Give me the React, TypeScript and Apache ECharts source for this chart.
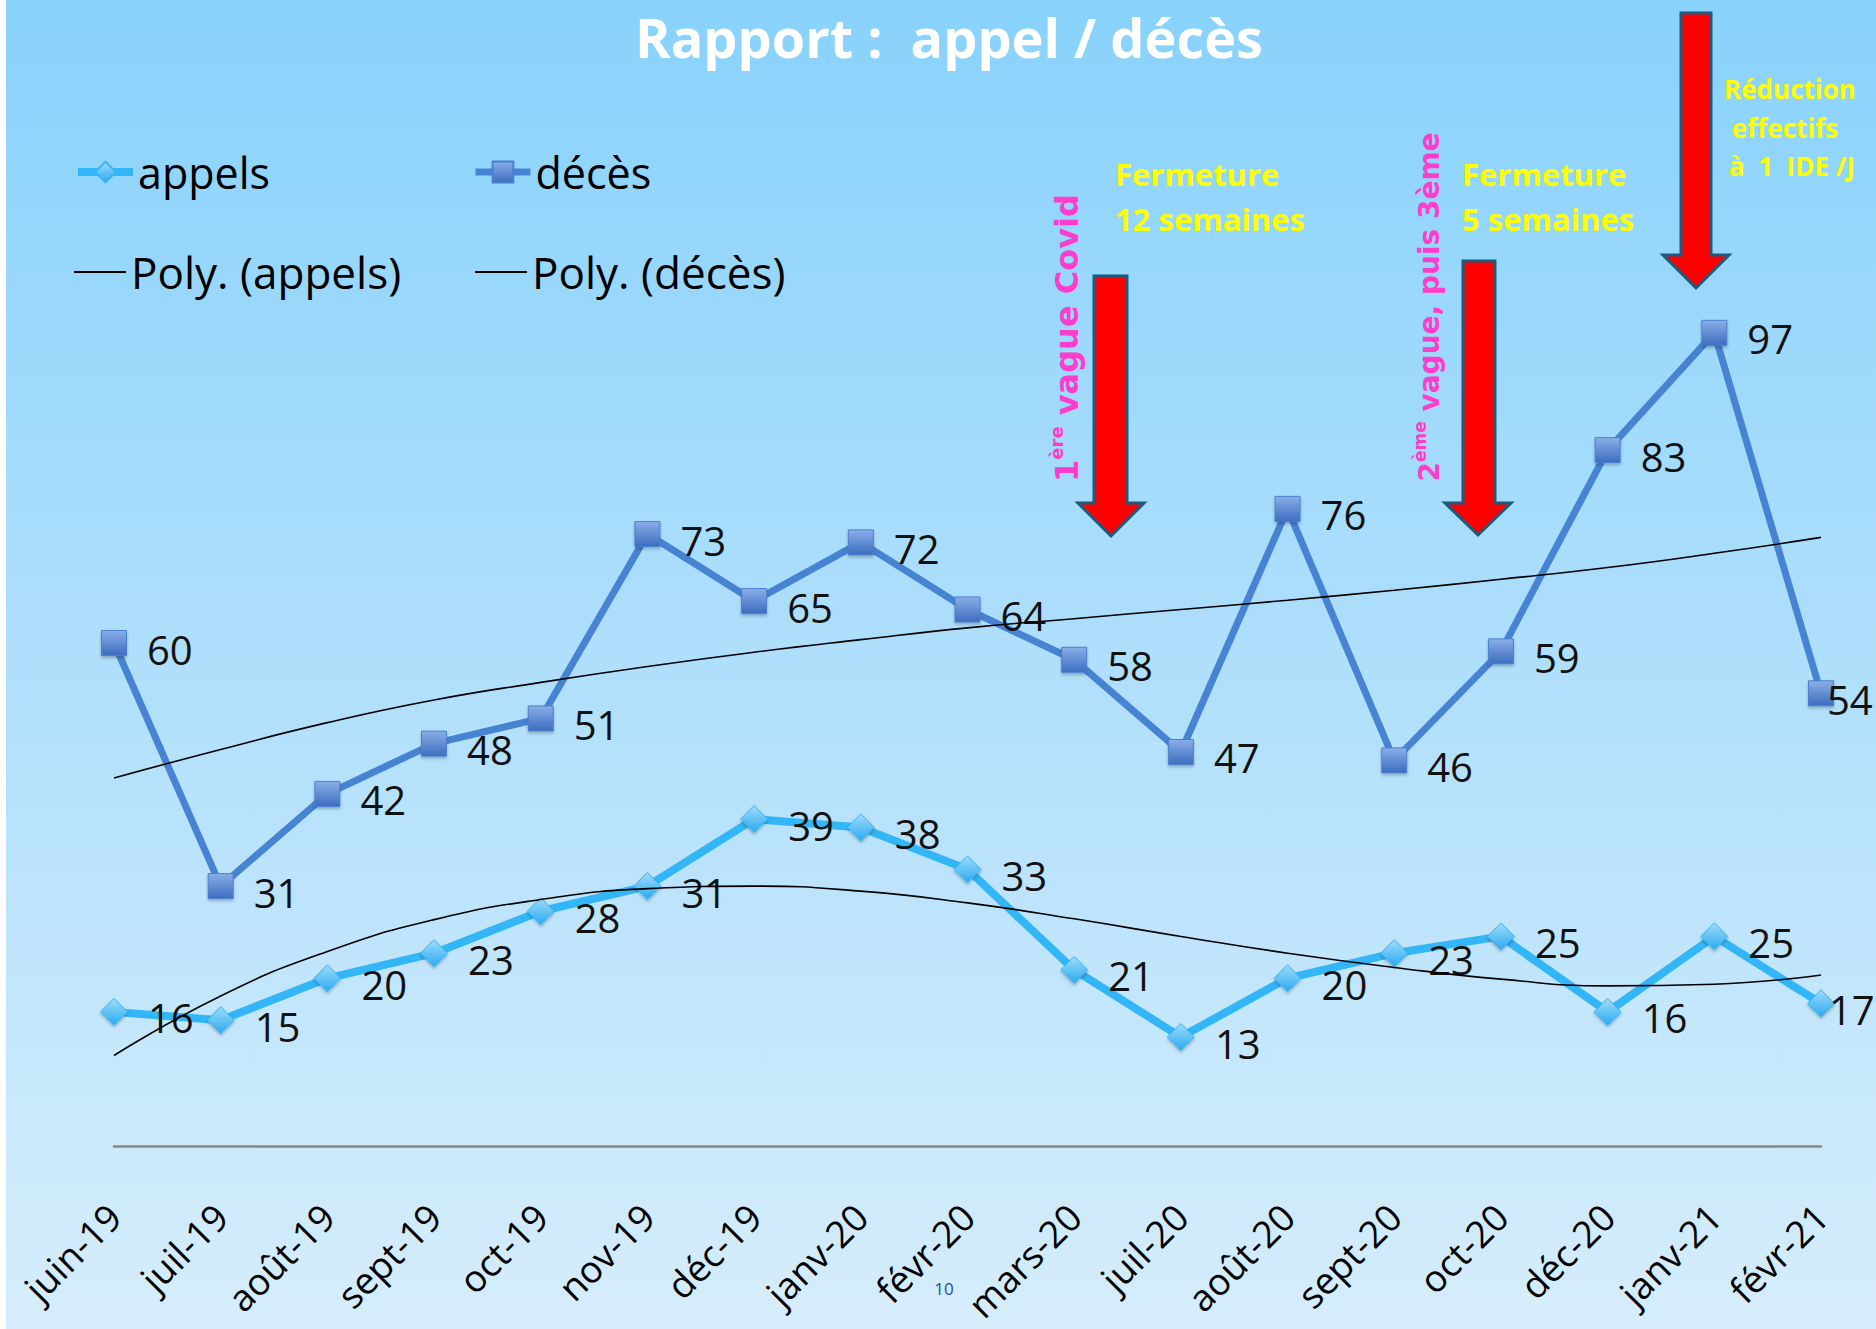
import React, { useEffect, useRef } from "react";
import * as echarts from "echarts";

const categories = ["juin-19", "juil-19", "août-19", "sept-19", "oct-19", "nov-19", "déc-19", "janv-20", "févr-20", "mars-20", "juil-20", "août-20", "sept-20", "oct-20", "déc-20", "janv-21", "févr-21"];
const appels = [16, 15, 20, 23, 28, 31, 39, 38, 33, 21, 13, 20, 23, 25, 16, 25, 17];
const deces = [60, 31, 42, 48, 51, 73, 65, 72, 64, 58, 47, 76, 46, 59, 83, 97, 54];
const polyAppels = [10.8, 17.9, 23.2, 27.0, 29.4, 30.7, 31.0, 30.4, 29.0, 27.1, 25.0, 23.0, 21.3, 19.9, 19.1, 19.3, 20.4];
const polyDeces = [43.9, 47.3, 50.5, 53.2, 55.3, 57.2, 58.9, 60.4, 61.8, 62.9, 64.0, 65.1, 66.3, 67.6, 69.0, 70.7, 72.6];

const FONT = "'Open Sans', 'Noto Sans', sans-serif";

function arrow(sx0: number, sx1: number, top: number, base: number, hx0: number, hx1: number, tip: number) {
  const cx = (hx0 + hx1) / 2;
  return {
    type: "polygon",
    z: 20,
    shape: { points: [[sx0, top], [sx1, top], [sx1, base], [hx1, base], [cx, tip], [hx0, base], [sx0, base]] },
    style: { fill: "#ff0000", stroke: "#1d5b7c", lineWidth: 3 },
  };
}

function yellow(text: string, x: number, y: number, size: number, align = "left") {
  return {
    type: "text",
    z: 20,
    x,
    y,
    style: { text, fill: "#ffff00", fontSize: size, fontWeight: "bold", fontFamily: FONT, align, verticalAlign: "middle" },
  };
}

export default function App() {
  const ref = useRef<HTMLDivElement>(null);
  useEffect(() => {
    if (!ref.current) return;
    const chart = echarts.init(ref.current, undefined, { renderer: "svg" });
    const last = categories.length - 1;
    const labelBase = { show: true, position: "right", distance: 20, offset: [0, 6], fontSize: 40, color: "#111", fontFamily: FONT };
    const decesData = deces.map((v, i) => (i === last ? { value: v, label: { offset: [-27, 6] } } : v));
    const appelsData = appels.map((v, i) => (i === last ? { value: v, label: { offset: [-26, 6] } } : v));
    const legendText = { fontSize: 43, color: "#000", fontFamily: FONT, lineHeight: 46 };
    const option = {
      animation: false,
      title: {
        text: "Rapport :  appel / décès",
        left: 944,
        top: 2,
        textAlign: "center",
        textStyle: { color: "#ffffff", fontSize: 54, fontWeight: "bold", fontFamily: FONT, lineHeight: 60 },
      },
      legend: [
        { data: ["appels"], left: 74, top: 149, padding: 0, itemWidth: 55, itemHeight: 26, itemGap: 0, textStyle: legendText, lineStyle: { width: 8 } },
        { data: ["décès"], left: 472, top: 149, padding: 0, itemWidth: 55, itemHeight: 26, itemGap: 0, textStyle: legendText, lineStyle: { width: 7 } },
        { data: [{ name: "Poly. (appels)", icon: "rect" }], left: 74, top: 249, padding: 0, itemWidth: 52, itemHeight: 2, itemGap: 0, textStyle: { ...legendText, fontSize: 44 } },
        { data: [{ name: "Poly. (décès)", icon: "rect" }], left: 475, top: 249, padding: 0, itemWidth: 52, itemHeight: 2, itemGap: 0, textStyle: { ...legendText, fontSize: 44 } },
      ],
      grid: { left: 114, right: 55, top: 140, bottom: 183, containLabel: false },
      xAxis: {
        type: "category",
        data: categories,
        boundaryGap: false,
        axisLine: { lineStyle: { color: "#888888", width: 2.5 } },
        axisTick: { show: false },
        axisLabel: { rotate: 45, margin: 64, interval: 0, fontSize: 37, color: "#000", fontFamily: FONT },
        splitLine: { show: false },
      },
      yAxis: { type: "value", min: 0, max: 120, show: false, splitLine: { show: false } },
      series: [
        {
          name: "appels",
          type: "line",
          data: appelsData,
          symbol: "diamond",
          symbolSize: 27,
          z: 3,
          lineStyle: { color: "#33b6f7", width: 8 },
          itemStyle: {
            color: new echarts.graphic.LinearGradient(0, 0, 0, 1, [
              { offset: 0, color: "#9edcfc" },
              { offset: 1, color: "#2aaaf0" },
            ]),
            borderColor: "#3ab4f2",
            borderWidth: 1,
            shadowBlur: 3,
            shadowColor: "rgba(0,0,0,0.25)",
            shadowOffsetY: 2,
          },
          label: labelBase,
        },
        {
          name: "décès",
          type: "line",
          data: decesData,
          symbol: "rect",
          symbolSize: 25,
          z: 3,
          lineStyle: { color: "#4783d3", width: 7 },
          itemStyle: {
            color: new echarts.graphic.LinearGradient(0, 0, 0, 1, [
              { offset: 0, color: "#8aaee8" },
              { offset: 1, color: "#3d6dbf" },
            ]),
            borderColor: "#4a80d0",
            borderWidth: 1,
            shadowBlur: 3,
            shadowColor: "rgba(0,0,0,0.25)",
            shadowOffsetY: 2,
          },
          label: labelBase,
        },
        {
          name: "Poly. (appels)",
          type: "line",
          data: polyAppels,
          smooth: true,
          symbol: "none",
          color: "#000",
          z: 5,
          lineStyle: { color: "#000", width: 1.6 },
          silent: true,
        },
        {
          name: "Poly. (décès)",
          type: "line",
          data: polyDeces,
          smooth: true,
          symbol: "none",
          color: "#000",
          z: 5,
          lineStyle: { color: "#000", width: 1.6 },
          silent: true,
        },
      ],
      graphic: [
        {
          type: "rect",
          z: -100,
          silent: true,
          shape: { x: 0, y: 0, width: 1876, height: 1329 },
          style: { fill: "#ffffff" },
        },
        {
          type: "rect",
          z: -90,
          silent: true,
          shape: { x: 6, y: 0, width: 1870, height: 1329 },
          style: {
            fill: new echarts.graphic.LinearGradient(0, 0, 0, 1, [
              { offset: 0, color: "#88d2fb" },
              { offset: 0.5, color: "#afdffb" },
              { offset: 1, color: "#d6edfc" },
            ]),
          },
        },
        arrow(1094, 1127, 276, 503, 1078, 1144, 536),
        arrow(1463, 1495, 261, 503, 1445, 1511, 535),
        arrow(1681, 1711, 13, 255, 1663, 1729, 288),
        yellow("Fermeture", 1115, 174, 31),
        yellow("12 semaines", 1115, 219, 31),
        yellow("Fermeture", 1462, 174, 31),
        yellow("5 semaines", 1462, 219, 31),
        yellow("Réduction", 1790, 89, 26, "center"),
        yellow("effectifs", 1785, 128, 26, "center"),
        yellow("à  1  IDE /J", 1792, 166, 26, "center"),
        {
          type: "text",
          z: 20,
          x: 1067,
          y: 338,
          rotation: Math.PI / 2,
          style: {
            text: "{a|1}{s|ère}{a| vague Covid}",
            align: "center",
            verticalAlign: "middle",
            fill: "#ff3ccc",
            fontFamily: "'DejaVu Sans', sans-serif",
            fontWeight: "bold",
            rich: {
              a: { fontSize: 32, fontWeight: "bold", fill: "#ff3ccc", fontFamily: "'DejaVu Sans', sans-serif", lineHeight: 40 },
              s: { fontSize: 18, fontWeight: "bold", fill: "#ff3ccc", fontFamily: "'DejaVu Sans', sans-serif", verticalAlign: "top", lineHeight: 22 },
            },
          },
        },
        {
          type: "text",
          z: 20,
          x: 1429,
          y: 307,
          rotation: Math.PI / 2,
          style: {
            text: "{a|2}{s|ème}{a| vague, puis 3ème}",
            align: "center",
            verticalAlign: "middle",
            fill: "#ff3ccc",
            fontFamily: "'DejaVu Sans', sans-serif",
            fontWeight: "bold",
            rich: {
              a: { fontSize: 28, fontWeight: "bold", fill: "#ff3ccc", fontFamily: "'DejaVu Sans', sans-serif", lineHeight: 36 },
              s: { fontSize: 17, fontWeight: "bold", fill: "#ff3ccc", fontFamily: "'DejaVu Sans', sans-serif", verticalAlign: "top", lineHeight: 20 },
            },
          },
        },
        {
          type: "text",
          z: 20,
          x: 944,
          y: 1288,
          style: { text: "10", fill: "#1f4f9c", fontSize: 17, fontFamily: "'Liberation Sans Narrow', 'Open Sans', sans-serif", align: "center", verticalAlign: "middle" },
        },
      ],
    };
    chart.setOption(option as any);
    return () => chart.dispose();
  }, []);
  return (
    <div style={{ position: "absolute", left: 0, top: 0, width: 1876, height: 1329 }}>
      <div ref={ref} style={{ width: 1876, height: 1329 }} />
    </div>
  );
}
